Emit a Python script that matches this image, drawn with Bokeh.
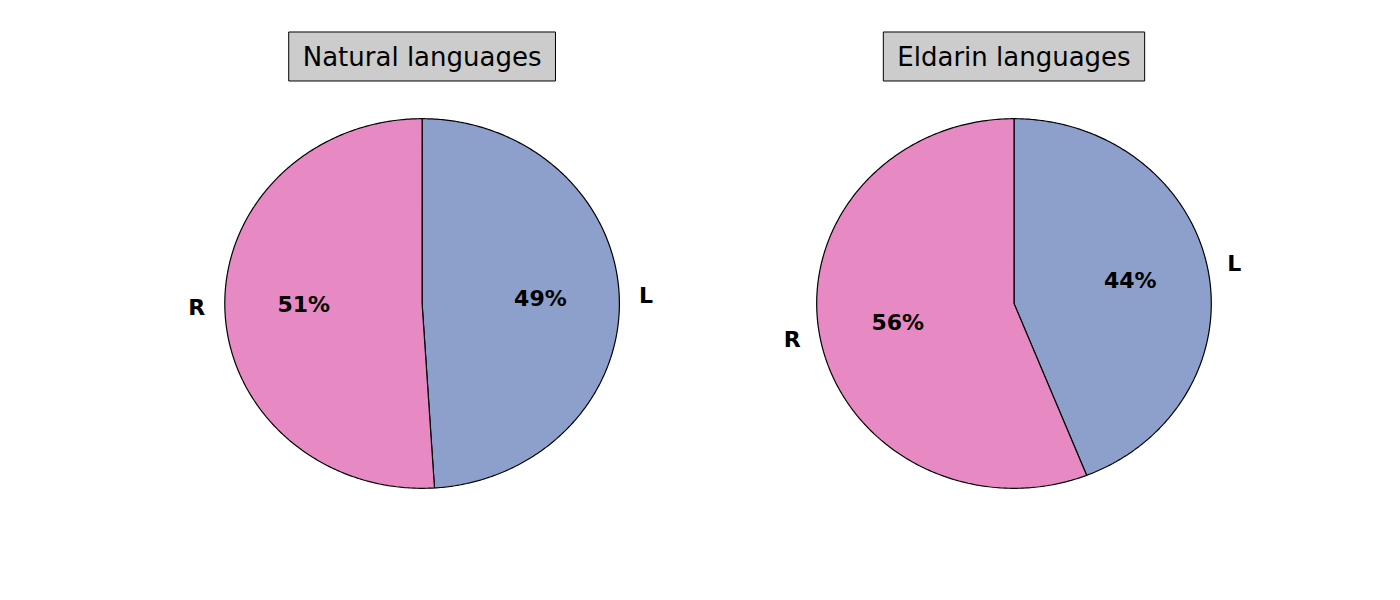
import numpy as np
from bokeh.plotting import figure
from bokeh.models import ColumnDataSource, Label
from bokeh.embed import file_html
from bokeh.resources import INLINE
from bokeh.core.properties import value

# ---- data ----
titles = ["Natural languages", "Eldarin languages"]
categories = ["L", "R"]
natural_values = [49, 51]
eldarin_values = [44, 56]
slice_colors = ["#8da0cb", "#e78ac3"]

series = [natural_values, eldarin_values]
centers = [0.0, 3.0]  # pie centres in data units (each axis spans 2.5 units + gap)

W, H = 1384, 584
p = figure(width=W, height=H, output_backend="svg", toolbar_location=None,
           x_range=(-2.1368, 4.8779), y_range=(-1.5206, 1.6396),
           min_border=0, outline_line_color=None)
p.axis.visible = False
p.grid.visible = False
p.background_fill_color = "white"
p.border_fill_color = "white"

FONT = value("DejaVu Sans")

for cx, vals, title in zip(centers, series, titles):
    total = float(sum(vals))
    xs, ys, fills = [], [], []
    tx, ty, tt, ta = [], [], [], []
    start = 90.0
    for cat, v, col in zip(categories, vals, slice_colors):
        sweep = v / total * 360.0
        end = start - sweep
        ang = np.radians(np.linspace(start, end, 300))
        xs.append(list(np.concatenate([[cx], cx + np.cos(ang), [cx]])))
        ys.append(list(np.concatenate([[0.0], np.sin(ang), [0.0]])))
        fills.append(col)
        mid = np.radians((start + end) / 2.0)
        # category label at 1.1 r
        lx = cx + 1.1 * np.cos(mid)
        ly = 1.1 * np.sin(mid)
        tx.append(lx); ty.append(ly); tt.append(cat)
        ta.append("left" if np.cos(mid) > 0 else "right")
        # percentage at 0.6 r
        tx.append(cx + 0.6 * np.cos(mid)); ty.append(0.6 * np.sin(mid))
        tt.append(f"{v / total * 100:.0f}%"); ta.append("center")
        start = end

    p.patches(xs="xs", ys="ys", fill_color="fill", line_color="black", line_width=1.2,
              source=ColumnDataSource(dict(xs=xs, ys=ys, fill=fills)))
    p.text(x="x", y="y", text="text", text_align="align", text_baseline="middle",
           y_offset=-2,
           text_font=FONT, text_font_style="bold", text_font_size="22px", text_color="black",
           source=ColumnDataSource(dict(x=tx, y=ty, text=tt, align=ta)))

    p.add_layout(Label(x=cx, y=1.3366, text=title, text_align="center", text_baseline="middle",
                       text_font="DejaVu Sans", text_font_size="26px", text_color="black",
                       background_fill_color="#cccccc", border_line_color="black",
                       border_line_width=1,
                       padding=dict(left=14, right=14, top=10, bottom=9)))

open("out.html", "w").write(file_html(p, INLINE))
